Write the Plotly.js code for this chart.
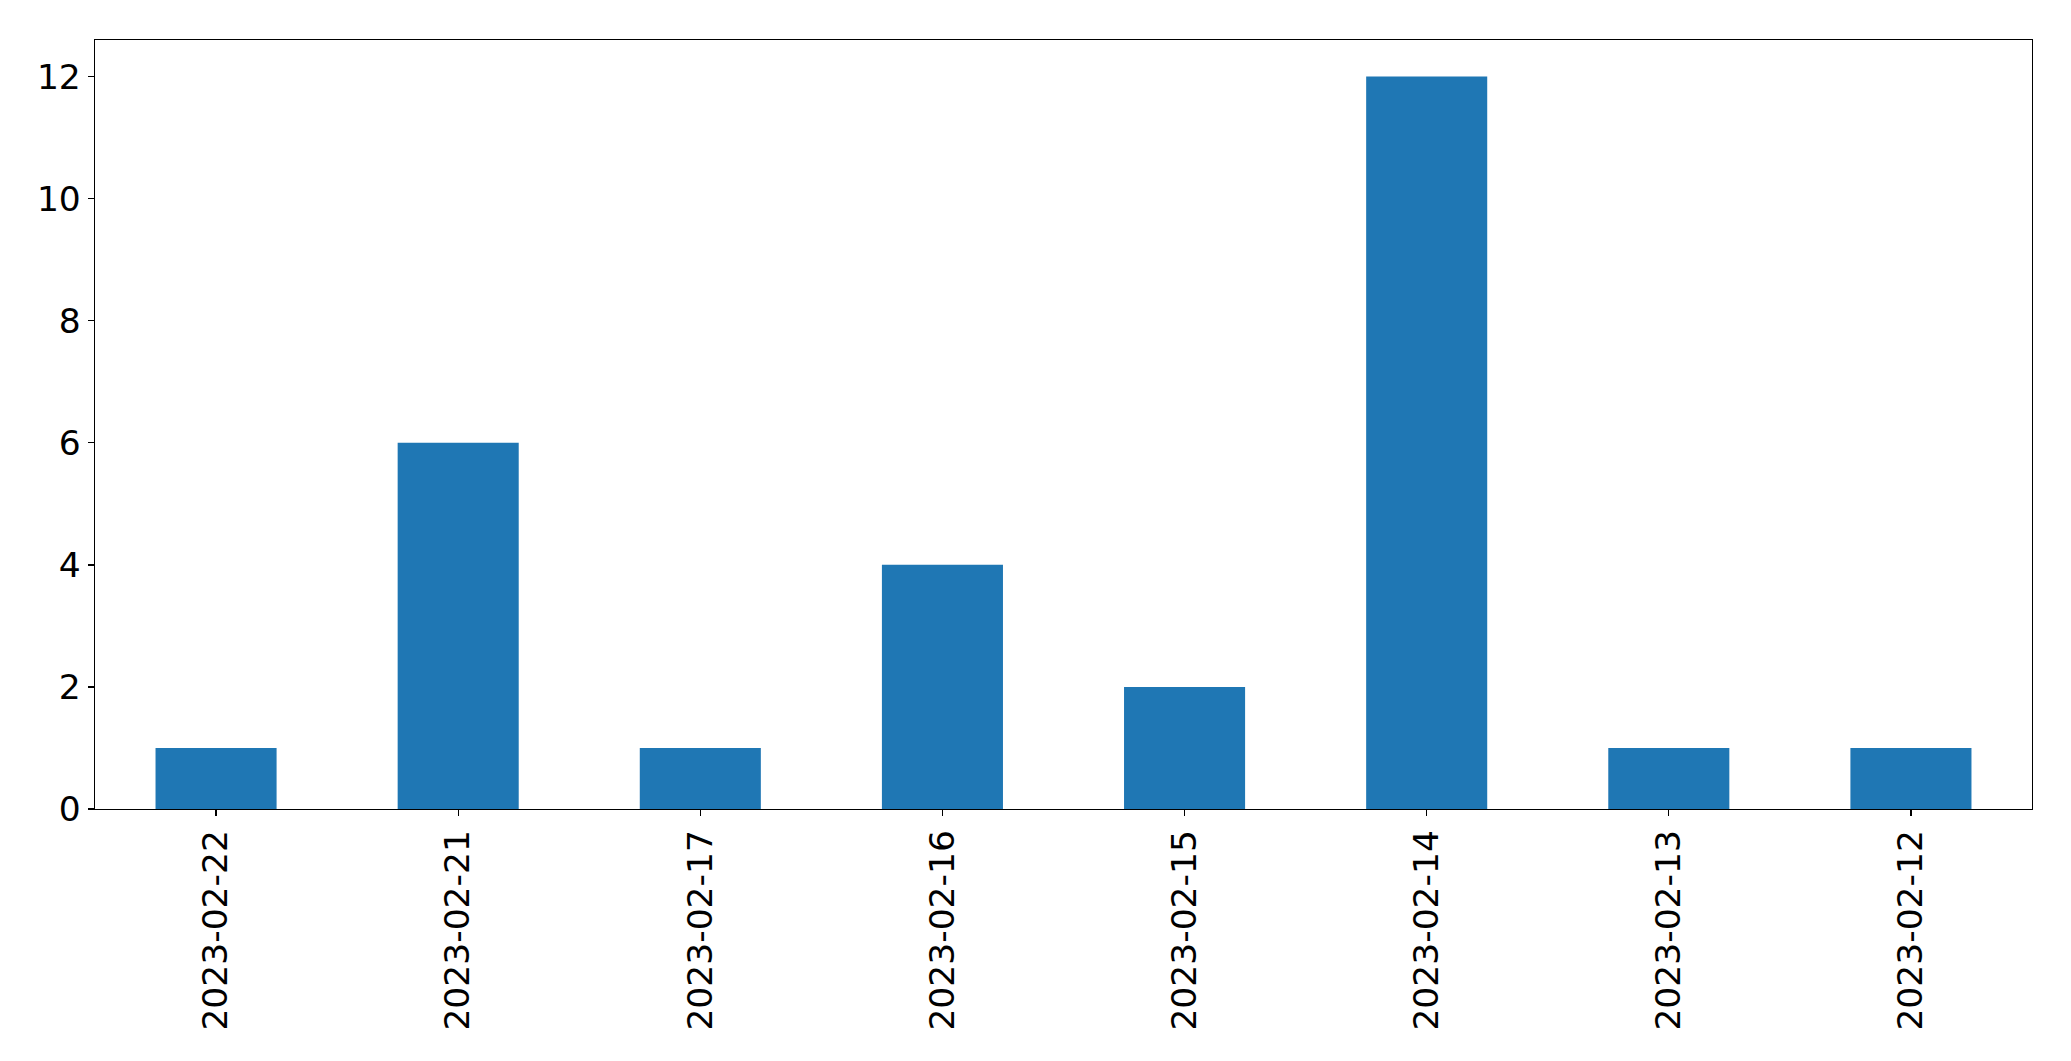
<!DOCTYPE html>
<html>
<head>
<meta charset="utf-8">
<script src="https://cdn.plot.ly/plotly-3.0.1.min.js"></script>
<style>html,body{margin:0;padding:0;background:#fff;}#chart{width:2071px;height:1061px;}</style>
</head>
<body>
<div id="chart"></div>
<script>
const categories = ["2023-02-22","2023-02-21","2023-02-17","2023-02-16","2023-02-15","2023-02-14","2023-02-13","2023-02-12"];
const counts = [1, 6, 1, 4, 2, 12, 1, 1];
const yTicks = [0, 2, 4, 6, 8, 10, 12];

const trace = {
  type: "bar",
  x: categories,
  y: counts,
  width: 0.5,
  marker: {color: "#1f77b4", line: {width: 0}},
  hoverinfo: "x+y"
};

const layout = {
  width: 2071,
  height: 1061,
  margin: {l: 94.5, r: 39, t: 39.5, b: 252, pad: 0},
  paper_bgcolor: "#ffffff",
  plot_bgcolor: "#ffffff",
  showlegend: false,
  font: {family: "DejaVu Sans", size: 34.5, color: "#000000"},
  xaxis: {
    type: "category",
    range: [-0.5, 7.5],
    tickangle: -90,
    ticks: "outside",
    ticklen: 6,
    tickwidth: 1.3,
    tickcolor: "#000",
    showgrid: false,
    zeroline: false,
    showline: true,
    linecolor: "#000",
    linewidth: 1.3,
    mirror: true,
    tickfont: {family: "DejaVu Sans", size: 34.5, color: "#000"}
  },
  yaxis: {
    range: [0, 12.6],
    tickmode: "array",
    tickvals: yTicks,
    ticktext: yTicks.map(String),
    ticks: "outside",
    ticklen: 6,
    tickwidth: 1.3,
    tickcolor: "#000",
    showgrid: false,
    zeroline: false,
    showline: true,
    linecolor: "#000",
    linewidth: 1.3,
    mirror: true,
    tickfont: {family: "DejaVu Sans", size: 34.5, color: "#000"}
  }
};

Plotly.newPlot("chart", [trace], layout, {displayModeBar: false, staticPlot: true});
</script>
</body>
</html>
